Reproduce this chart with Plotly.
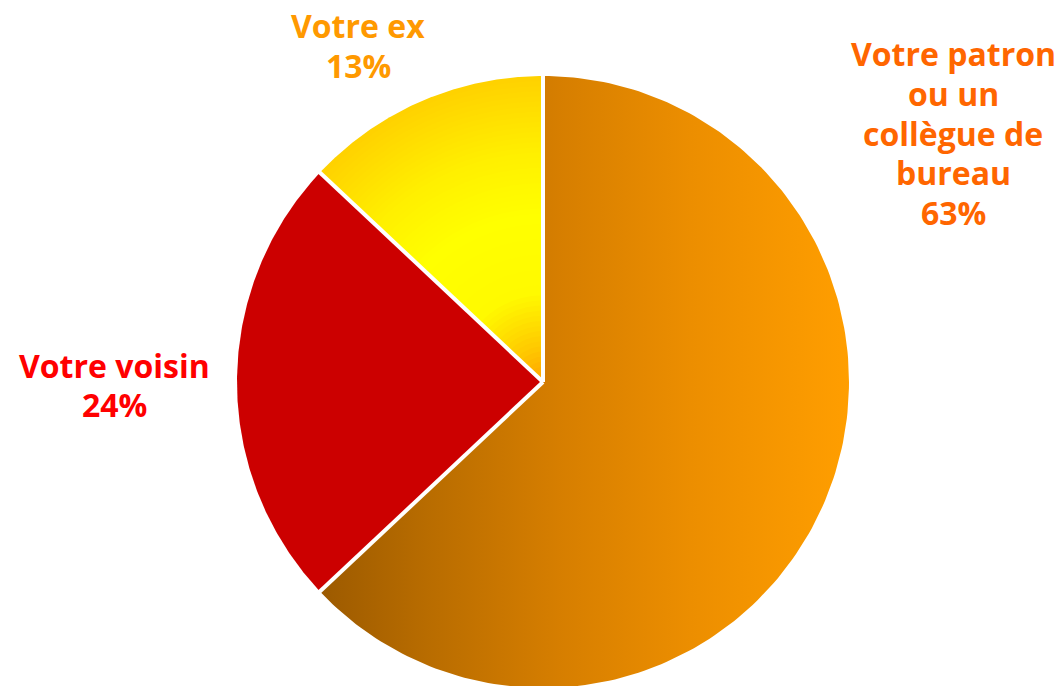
import numpy as np
import plotly.graph_objects as go

# Survey shares, clockwise from 12 o'clock
categories = ["Votre patron ou un collègue de bureau", "Votre voisin", "Votre ex"]
shares = [63, 24, 13]

# Text of each slice label, one entry per line
label_lines = [
    ["Votre patron", "ou un", "collègue de", "bureau", "63%"],
    ["Votre voisin", "24%"],
    ["Votre ex", "13%"],
]
label_colors = ["#FF6600", "#FF0000", "#FF9900"]

# Fill styles
patron_scale = [[0.0, "#9C5A00"], [0.2, "#B86C00"], [0.45, "#D67E00"],
                [0.7, "#EC8E00"], [1.0, "#FF9E00"]]
voisin_color = "#CC0000"
# radial profile of the "ex" slice: (relative radius, colour)
ex_profile = [(0.0, (255, 160, 0)), (0.12, (255, 200, 0)), (0.3, (255, 250, 0)),
              (0.55, (255, 255, 0)), (0.75, (255, 240, 0)), (0.9, (255, 222, 0)),
              (1.0, (255, 210, 0))]

# Canvas geometry (pixels)
W, H = 1060, 686
CX, CY, R = 543, 382, 306
FONT = "Open Sans"
FSIZE = 32
LINE_GAP = 39.5
# first-line centre for each label (x, y in pixels from top-left)
label_anchor = [(953, 54), (114, 365), (358, 26)]

fig = go.Figure()

total = float(sum(shares))
bounds = np.concatenate([[0.0], np.cumsum(shares) / total])


def angle(frac):
    return np.deg2rad(90.0 - 360.0 * frac)


def sector(f0, f1, r=1.0, n=200):
    t = np.linspace(angle(f0), angle(f1), n)
    xs = np.concatenate([[0.0], r * np.cos(t), [0.0]])
    ys = np.concatenate([[0.0], r * np.sin(t), [0.0]])
    return xs, ys


# Slice 1: horizontal gradient
xs, ys = sector(bounds[0], bounds[1])
fig.add_trace(go.Scatter(
    x=xs, y=ys, mode="lines", fill="toself", line=dict(width=0),
    fillgradient=dict(type="horizontal", colorscale=patron_scale),
    hoverinfo="text", text=f"{categories[0]}: {shares[0]}%", showlegend=False))

# Slice 2: flat fill
xs, ys = sector(bounds[1], bounds[2])
fig.add_trace(go.Scatter(
    x=xs, y=ys, mode="lines", fill="toself", line=dict(width=0),
    fillcolor=voisin_color, hoverinfo="text",
    text=f"{categories[1]}: {shares[1]}%", showlegend=False))

# Slice 3: radial gradient built from nested sectors, largest first
prof_r = np.array([p[0] for p in ex_profile])
prof_c = np.array([p[1] for p in ex_profile], dtype=float)
steps = 60
for k in range(steps, 0, -1):
    rr = k / steps
    col = [np.interp(rr, prof_r, prof_c[:, j]) for j in range(3)]
    xs, ys = sector(bounds[2], bounds[3], r=rr)
    fig.add_trace(go.Scatter(
        x=xs, y=ys, mode="lines", fill="toself", line=dict(width=0),
        fillcolor="rgb(%d,%d,%d)" % tuple(int(round(c)) for c in col),
        hoverinfo="text", text=f"{categories[2]}: {shares[2]}%",
        showlegend=False))

# White separators between slices
for f in bounds[:-1]:
    a = angle(f)
    fig.add_trace(go.Scatter(
        x=[0, np.cos(a) * 1.01], y=[0, np.sin(a) * 1.01], mode="lines",
        line=dict(color="white", width=4), hoverinfo="skip", showlegend=False))

# Labels, one annotation per line
for lines, col, (ax, ay) in zip(label_lines, label_colors, label_anchor):
    for i, txt in enumerate(lines):
        fig.add_annotation(
            x=ax / W, y=1 - (ay + i * LINE_GAP) / H, xref="paper", yref="paper",
            text=txt, showarrow=False, xanchor="center", yanchor="middle",
            font=dict(family=FONT, size=FSIZE, color=col, weight="bold"))

fig.update_layout(
    width=W, height=H, margin=dict(l=0, r=0, t=0, b=0),
    paper_bgcolor="white", plot_bgcolor="white",
    xaxis=dict(range=[-CX / R, (W - CX) / R], visible=False, fixedrange=True),
    yaxis=dict(range=[-(H - CY) / R, CY / R], visible=False, fixedrange=True),
    showlegend=False,
)

fig.write_html("out.html")
